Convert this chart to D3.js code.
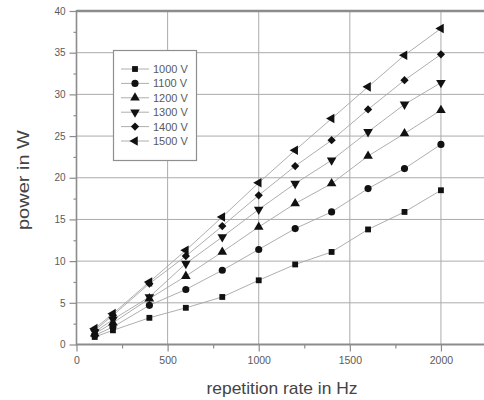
<!DOCTYPE html>
<html>
<head>
<meta charset="utf-8">
<script src="https://cdn.jsdelivr.net/npm/d3@7"></script>
<style>
  html, body { margin: 0; padding: 0; background: #fff; }
  svg { display: block; font-family: Arial, "Liberation Sans", sans-serif; }
</style>
</head>
<body>
<svg id="chart" width="484" height="400"></svg>
<script>
// ---- data ----
const rates = [100, 200, 400, 600, 800, 1000, 1200, 1400, 1600, 1800, 2000];
const seriesNames = ["1000 V", "1100 V", "1200 V", "1300 V", "1400 V", "1500 V"];
const p1000 = [0.9, 1.7, 3.2, 4.4, 5.7, 7.7, 9.6, 11.1, 13.8, 15.9, 18.5];
const p1100 = [1.1, 2.1, 4.7, 6.6, 8.9, 11.4, 13.9, 15.9, 18.7, 21.1, 24.0];
const p1200 = [1.3, 2.6, 5.5, 8.2, 11.1, 14.1, 16.9, 19.3, 22.6, 25.3, 28.1];
const p1300 = [1.5, 3.0, 5.7, 9.7, 12.9, 16.2, 19.3, 22.1, 25.5, 28.8, 31.4];
const p1400 = [1.7, 3.5, 7.3, 10.6, 14.2, 17.9, 21.4, 24.5, 28.2, 31.7, 34.8];
const p1500 = [1.9, 3.7, 7.5, 11.3, 15.3, 19.4, 23.3, 27.1, 30.9, 34.7, 37.9];
const xTicks = [0, 500, 1000, 1500, 2000];
const yTicks = [0, 5, 10, 15, 20, 25, 30, 35, 40];
const xLabel = "repetition rate in Hz";
const yLabel = "power in W";

const allSeries = [p1000, p1100, p1200, p1300, p1400, p1500];
const symbols = ["square", "circle", "up", "down", "diamond", "left"];

// ---- layout ----
const svg = d3.select("#chart");
const x = d3.scaleLinear().domain([0, 2250]).range([76.5, 486.5]);
const y = d3.scaleLinear().domain([0, 40]).range([344.5, 11]);
const gridColor = "#ababab";
const axisColor = "#8c8c8c";
const textColor = "#5a5a5a";

// grid lines
svg.append("g").selectAll("line").data(xTicks.filter(d => d > 0)).join("line")
  .attr("x1", d => x(d)).attr("x2", d => x(d))
  .attr("y1", y(0)).attr("y2", y(40))
  .attr("stroke", gridColor).attr("stroke-width", 1);
svg.append("g").selectAll("line").data(yTicks.filter(d => d > 0 && d < 40)).join("line")
  .attr("x1", x(0)).attr("x2", x(2250))
  .attr("y1", d => y(d)).attr("y2", d => y(d))
  .attr("stroke", gridColor).attr("stroke-width", 1);

// axes
const xAxis = d3.axisBottom(x).tickValues(xTicks).tickSize(7).tickPadding(5).tickFormat(d3.format("d"));
const gx = svg.append("g").attr("transform", `translate(0,${y(0)})`).call(xAxis);
const xMinor = d3.axisBottom(x).tickValues([250, 750, 1250, 1750, 2250]).tickSize(4).tickFormat("");
svg.append("g").attr("transform", `translate(0,${y(0)})`).call(xMinor);

const yAxis = d3.axisLeft(y).tickValues(yTicks).tickSize(7).tickPadding(4).tickFormat(d3.format("d"));
const gy = svg.append("g").attr("transform", `translate(${x(0)},0)`).call(yAxis);
const yMinor = d3.axisLeft(y).tickValues(d3.range(2.5, 40, 5)).tickSize(3).tickFormat("");
svg.append("g").attr("transform", `translate(${x(0)},0)`).call(yMinor);

svg.selectAll(".domain").remove();
svg.selectAll(".tick line").attr("stroke", axisColor).attr("stroke-width", 1.2);
gx.selectAll("text").attr("fill", textColor).attr("font-size", 10.5);
gy.selectAll("text").attr("fill", textColor).attr("font-size", 10);

// frame lines
svg.append("line").attr("x1", x(0)).attr("x2", x(2250)).attr("y1", y(0)).attr("y2", y(0))
  .attr("stroke", axisColor).attr("stroke-width", 2.2);
svg.append("line").attr("x1", x(0)).attr("x2", x(2250)).attr("y1", y(40)).attr("y2", y(40))
  .attr("stroke", axisColor).attr("stroke-width", 2.4);
svg.append("line").attr("x1", x(0)).attr("x2", x(0)).attr("y1", y(0) + 1).attr("y2", y(40) - 1)
  .attr("stroke", axisColor).attr("stroke-width", 1.6);

// symbol helpers
function symPath(s) {
  if (s === "square") return d3.symbol(d3.symbolSquare, 34)();
  if (s === "circle") return d3.symbol(d3.symbolCircle, 40)();
  if (s === "diamond") return d3.symbol(d3.symbolSquare, 34)();
  return d3.symbol(d3.symbolTriangle, 40)();
}
function symRot(s) {
  if (s === "down") return " rotate(180)";
  if (s === "left") return " rotate(-90)";
  if (s === "diamond") return " rotate(45)";
  return "";
}

// series lines + markers
const line = d3.line().x((d, i) => x(rates[i])).y(d => y(d));
allSeries.forEach((vals) => {
  svg.append("path").datum(vals).attr("d", line)
    .attr("fill", "none").attr("stroke", "#a5a5a5").attr("stroke-width", 0.9);
});
allSeries.forEach((vals, k) => {
  svg.append("g").selectAll("path").data(vals).join("path")
    .attr("d", symPath(symbols[k]))
    .attr("transform", (d, i) => `translate(${x(rates[i])},${y(d)})` + symRot(symbols[k]))
    .attr("fill", "#111");
});

// legend
const lg = svg.append("g");
lg.append("rect").attr("x", 113.5).attr("y", 50.5).attr("width", 83).attr("height", 110)
  .attr("fill", "#fff").attr("stroke", "#8f8f8f").attr("stroke-width", 1.2);
seriesNames.forEach((name, k) => {
  const yy = 69 + k * 14.4;
  lg.append("line").attr("x1", 121).attr("x2", 149).attr("y1", yy).attr("y2", yy)
    .attr("stroke", "#a5a5a5").attr("stroke-width", 0.9);
  lg.append("path").attr("d", symPath(symbols[k]))
    .attr("transform", `translate(135,${yy})` + symRot(symbols[k])).attr("fill", "#111");
  lg.append("text").attr("x", 153).attr("y", yy + 4).text(name)
    .attr("font-size", 11).attr("fill", textColor);
});

// axis titles
svg.append("text").attr("x", 282).attr("y", 394).attr("text-anchor", "middle")
  .attr("font-size", 17).attr("fill", "#444")
  .attr("textLength", 151).attr("lengthAdjust", "spacingAndGlyphs").text(xLabel);
svg.append("text").attr("transform", "translate(29,180) rotate(-90)").attr("text-anchor", "middle")
  .attr("font-size", 17).attr("fill", "#444")
  .attr("textLength", 100).attr("lengthAdjust", "spacingAndGlyphs").text(yLabel);
</script>
</body>
</html>
